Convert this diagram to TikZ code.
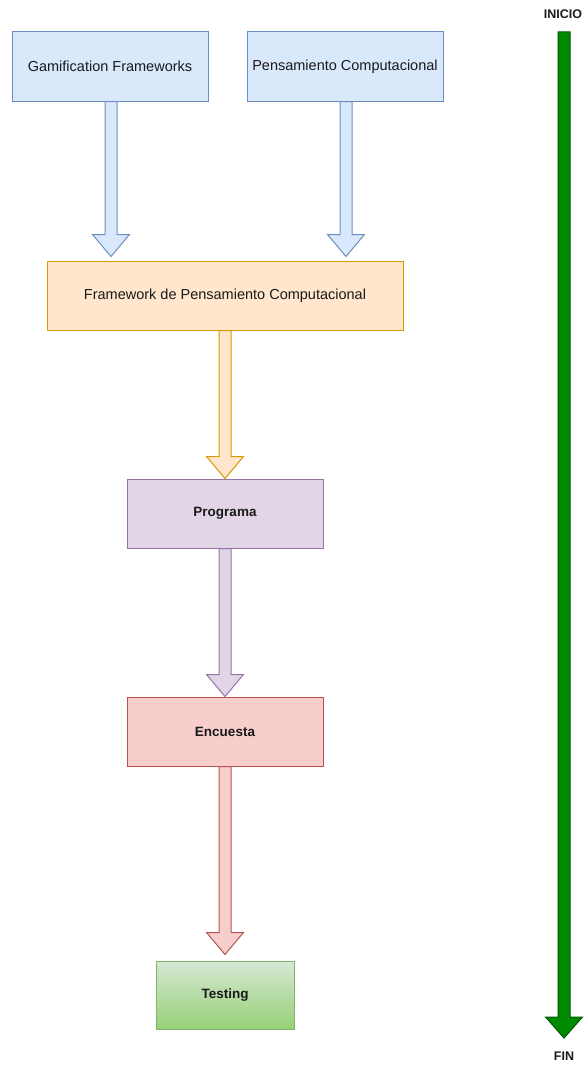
\documentclass[tikz,border=0pt]{standalone}
\usepackage{fontspec}
\setmainfont{Liberation Sans}
\usetikzlibrary{calc}

\definecolor{blueFill}{HTML}{DAE8FC}
\definecolor{blueLine}{HTML}{6C8EBF}
\definecolor{orangeFill}{HTML}{FFE6CC}
\definecolor{orangeLine}{HTML}{D79B00}
\definecolor{purpleFill}{HTML}{E1D5E7}
\definecolor{purpleLine}{HTML}{9673A6}
\definecolor{redFill}{HTML}{F8CECC}
\definecolor{redLine}{HTML}{B85450}
\definecolor{greenTop}{HTML}{D5E8D4}
\definecolor{greenBottom}{HTML}{97D077}
\definecolor{greenLine}{HTML}{82B366}
\definecolor{darkGreenFill}{HTML}{008A00}
\definecolor{darkGreenLine}{HTML}{005700}
\definecolor{labelText}{HTML}{1A1A1A}

\tikzset{
  box/.style={draw, line width=1pt, inner sep=0pt, minimum width=196pt,
    minimum height=69pt, text=labelText,
    font=\fontsize{14.5}{17}\selectfont},
  boldbox/.style={box, font=\fontsize{13.5}{16}\selectfont\bfseries},
  bluebox/.style={box, fill=blueFill, draw=blueLine},
  orangebox/.style={box, fill=orangeFill, draw=orangeLine},
  purplebox/.style={boldbox, fill=purpleFill, draw=purpleLine},
  redbox/.style={boldbox, fill=redFill, draw=redLine},
  greenbox/.style={boldbox, top color=greenTop, bottom color=greenBottom,
    draw=greenLine},
  endlabel/.style={text=labelText, inner sep=0pt,
    font=\fontsize{12.5}{14}\selectfont\bfseries},
  fatarrow/.style={line width=1pt, line join=miter},
}

% Block arrow: shaft 12 wide, head 37 wide and 22 tall, from #2 down to tip #3
\newcommand\blockarrow[3]{%
  \draw[fatarrow,#1] let \p1=(#2), \p2=(#3) in
    (\x2-6pt,\y1) -- (\x2-6pt,\y2+22pt) -- (\x2-18.5pt,\y2+22pt) --
    (\x2,\y2) -- (\x2+18.5pt,\y2+22pt) -- (\x2+6pt,\y2+22pt) --
    (\x2+6pt,\y1) -- cycle;}

\begin{document}
\begin{tikzpicture}[x=1pt, y=-1pt]
  \useasboundingbox (0,0) rectangle (587,1065);

  % boxes
  \node[bluebox] (gf) at (110,66.5) {Gamification Frameworks};
  \node[bluebox] (pc) at (345,66.5) {Pensamiento Computacional};
  \node[orangebox, minimum width=356pt] (fw) at (225,295.5)
    {Framework de Pensamiento Computacional};
  \node[purplebox] (pr) at (225,513.5) {Programa};
  \node[redbox] (en) at (225,731.5) {Encuesta};
  \node[greenbox, minimum width=138pt, minimum height=68pt] (te) at (225,995) {Testing};

  % connectors
  \coordinate (gfTip) at ($(fw.north -| gf.south)+(1,-4)$);
  \coordinate (pcTip) at ($(fw.north -| pc.south)+(1,-4)$);
  \blockarrow{fill=blueFill, draw=blueLine}{gf.south}{gfTip}
  \blockarrow{fill=blueFill, draw=blueLine}{pc.south}{pcTip}
  \blockarrow{fill=orangeFill, draw=orangeLine}{fw.south}{pr.north}
  \blockarrow{fill=purpleFill, draw=purpleLine}{pr.south}{en.north}
  \coordinate (teTip) at ($(te.north)+(0,-6)$);
  \blockarrow{fill=redFill, draw=redLine}{en.south}{teTip}

  % timeline
  \node[endlabel] (inicio) at (563,14) {INICIO};
  \node[endlabel] (fin) at (564,1056) {FIN};
  \coordinate (lineTop) at (564,32);
  \coordinate (lineTip) at (564,1038);
  \draw[fatarrow, fill=darkGreenFill, draw=darkGreenLine]
    let \p1=(lineTop), \p2=(lineTip) in
    (\x2-6pt,\y1) -- (\x2-6pt,\y2+21pt) -- (\x2-18.5pt,\y2+21pt) --
    (\x2,\y2) -- (\x2+18.5pt,\y2+21pt) -- (\x2+6pt,\y2+21pt) --
    (\x2+6pt,\y1) -- cycle;
\end{tikzpicture}
\end{document}
